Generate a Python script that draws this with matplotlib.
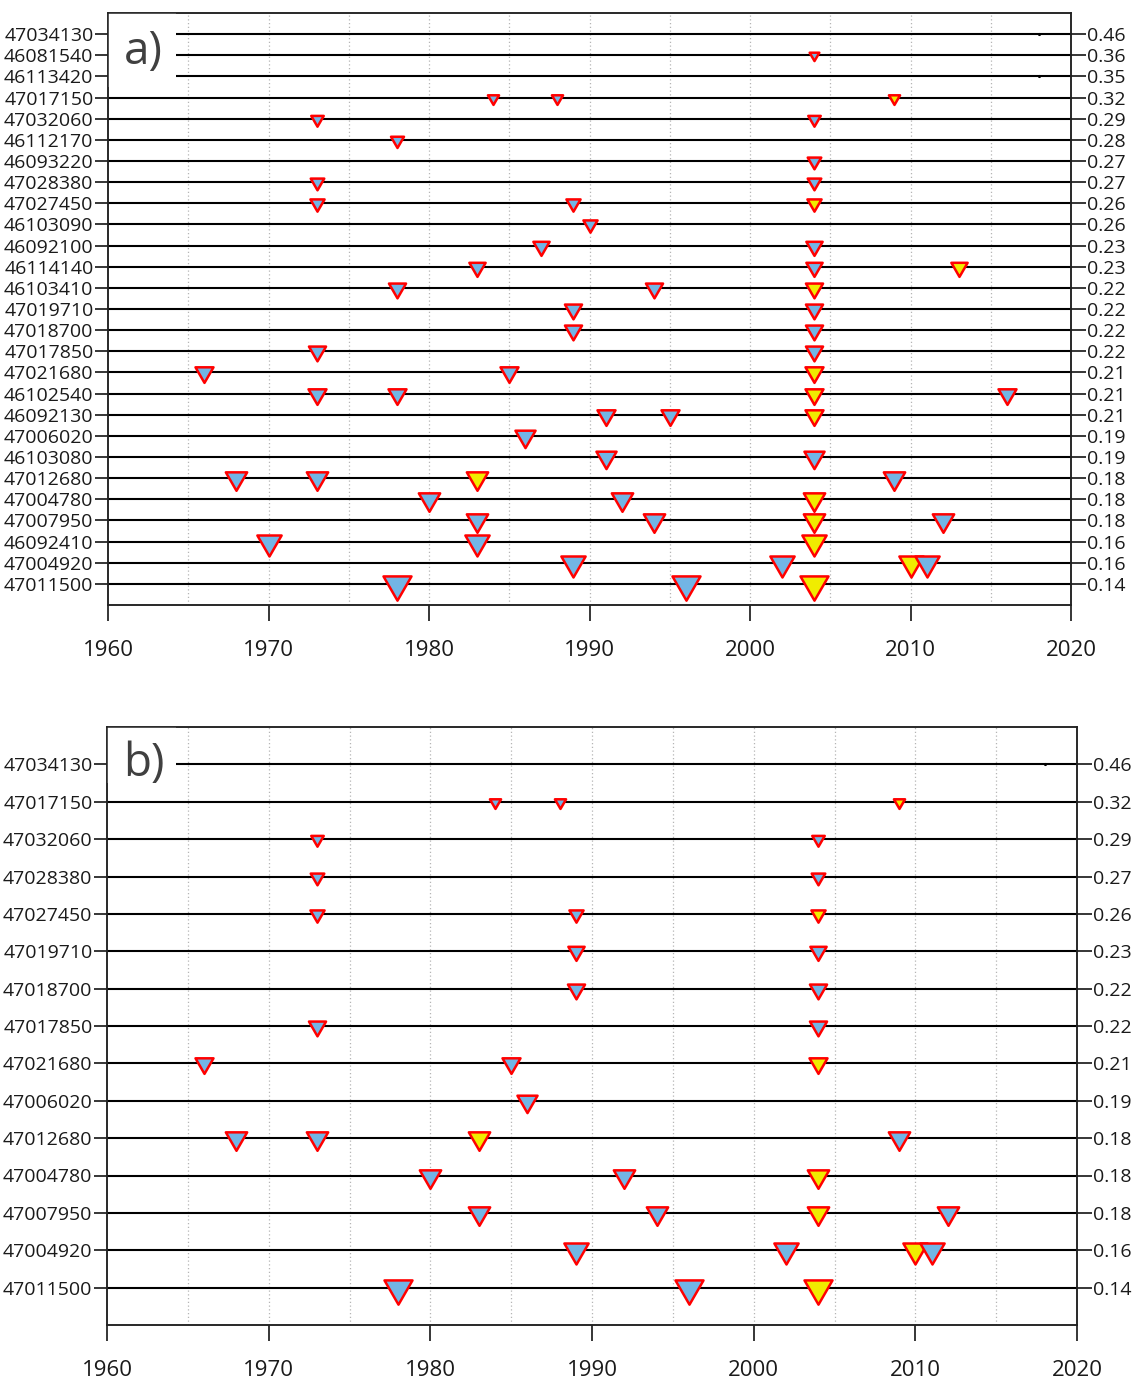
import numpy as np
import matplotlib.pyplot as plt
from matplotlib.path import Path
from matplotlib.patches import Rectangle

plt.rcParams['font.family'] = ['Open Sans', 'DejaVu Sans']

# stations of panel a, top to bottom, and the value printed on the right
stations_a = ["47034130", "46081540", "46113420", "47017150", "47032060", "46112170",
              "46093220", "47028380", "47027450", "46103090", "46092100", "46114140",
              "46103410", "47019710", "47018700", "47017850", "47021680", "46102540",
              "46092130", "47006020", "46103080", "47012680", "47004780", "47007950",
              "46092410", "47004920", "47011500"]
values_a = [0.46, 0.36, 0.35, 0.32, 0.29, 0.28, 0.27, 0.27, 0.26, 0.26, 0.23, 0.23, 0.22,
            0.22, 0.22, 0.22, 0.21, 0.21, 0.21, 0.19, 0.19, 0.18, 0.18, 0.18, 0.16, 0.16, 0.14]

# break years per station (blue = one kind, yellow = the other, dot = no break)
blue_a = [[], [2004], [], [1984, 1988], [1973, 2004], [1978], [2004], [1973, 2004],
          [1973, 1989], [1990], [1987, 2004], [1983, 2004], [1978, 1994], [1989, 2004],
          [1989, 2004], [1973, 2004], [1966, 1985], [1973, 1978, 2016], [1991, 1995],
          [1986], [1991, 2004], [1968, 1973, 2009], [1980, 1992], [1983, 1994, 2012],
          [1970, 1983], [1989, 2002, 2011], [1978, 1996]]
yellow_a = [[], [], [], [2009], [], [], [], [], [2004], [], [], [2013], [2004], [], [], [],
            [2004], [2004], [2004], [], [], [1983], [2004], [2004], [2004], [2010], [2004]]
dot_a = [[2018], [], [2018], [], [], [], [], [], [], [], [], [], [], [], [], [], [], [], [],
         [], [], [], [], [], [], [], []]

# panel b: only the 470... stations
stations_b = ["47034130", "47017150", "47032060", "47028380", "47027450", "47019710",
              "47018700", "47017850", "47021680", "47006020", "47012680", "47004780",
              "47007950", "47004920", "47011500"]
values_b = [0.46, 0.32, 0.29, 0.27, 0.26, 0.23, 0.22, 0.22, 0.21, 0.19, 0.18, 0.18,
            0.18, 0.16, 0.14]

BLUE = '#72b5e5'
YELLOW = '#f0ec00'
RED = '#ff0000'

# downward triangle with its centroid on the point (like R pch 25)
tri = Path([(-1, 0.577), (1, 0.577), (0, -1.155), (-1, 0.577)],
           [Path.MOVETO, Path.LINETO, Path.LINETO, Path.CLOSEPOLY])


def draw_panel(ax, stations, values, tag, box_bottom, tag_y):
    n = len(stations)
    ys = np.arange(1, n + 1)
    ax.set_xlim(1960, 2020)
    ax.set_ylim(n + 1, 0)

    for x in range(1965, 2020, 5):
        ax.axvline(x, color='#b5b5b5', ls=(0, (1, 2)), lw=0.9, zorder=1)
    for y in ys:
        ax.axhline(y, color='black', lw=1.5, zorder=2)

    for y, st, v in zip(ys, stations, values):
        i = stations_a.index(st)
        pts = [(yr, BLUE) for yr in blue_a[i]] + [(yr, YELLOW) for yr in yellow_a[i]]
        pts.sort()
        ms = (4.2 / v - 2.0) / 1.2028
        for yr, col in pts:
            ax.plot(yr, y, marker=tri, ms=ms, mfc=col, mec=RED, mew=1.8,
                    ls='none', zorder=3, clip_on=False)
        for yr in dot_a[i]:
            ax.plot(yr, y, marker='.', ms=2.5, color='black', ls='none', zorder=3)

    # white label box in the top-left corner
    ax.add_patch(Rectangle((1960, 0), 4.25, box_bottom, facecolor='white',
                           edgecolor='none', zorder=4))
    ax.text(1961.0, tag_y, tag, fontsize=33, color='#404040', ha='left',
            va='center', zorder=5)

    ax.set_yticks(ys)
    ax.set_yticklabels(stations)
    ax.tick_params(axis='y', length=9.5, width=1.1, pad=1, labelsize=14,
                   labelcolor='#1a1a1a')
    ax.set_xticks(range(1960, 2021, 10))
    ax.tick_params(axis='x', length=11.5, width=1.1, pad=14, labelsize=16,
                   labelcolor='#1a1a1a')

    ax2 = ax.twinx()
    ax2.set_ylim(ax.get_ylim())
    ax2.set_yticks(ys)
    ax2.set_yticklabels([f"{v:.2f}" for v in values])
    ax2.tick_params(axis='y', length=10.5, width=1.1, pad=1, labelsize=14,
                    labelcolor='#1a1a1a')

    for a in (ax, ax2):
        for s in a.spines.values():
            s.set_linewidth(1.1)
            s.set_color('#222222')


fig = plt.figure(figsize=(11.32, 13.83), dpi=100)
ax_a = fig.add_axes([108 / 1132, 1 - 605 / 1383, 963 / 1132, 592 / 1383])
ax_b = fig.add_axes([107 / 1132, 1 - 1325 / 1383, 970 / 1132, 598 / 1383])

draw_panel(ax_a, stations_a, values_a, 'a)', 3.5, 1.85)
draw_panel(ax_b, stations_b, values_b, 'b)', 1.5, 1.0)

fig.savefig('out.png', dpi=100)
